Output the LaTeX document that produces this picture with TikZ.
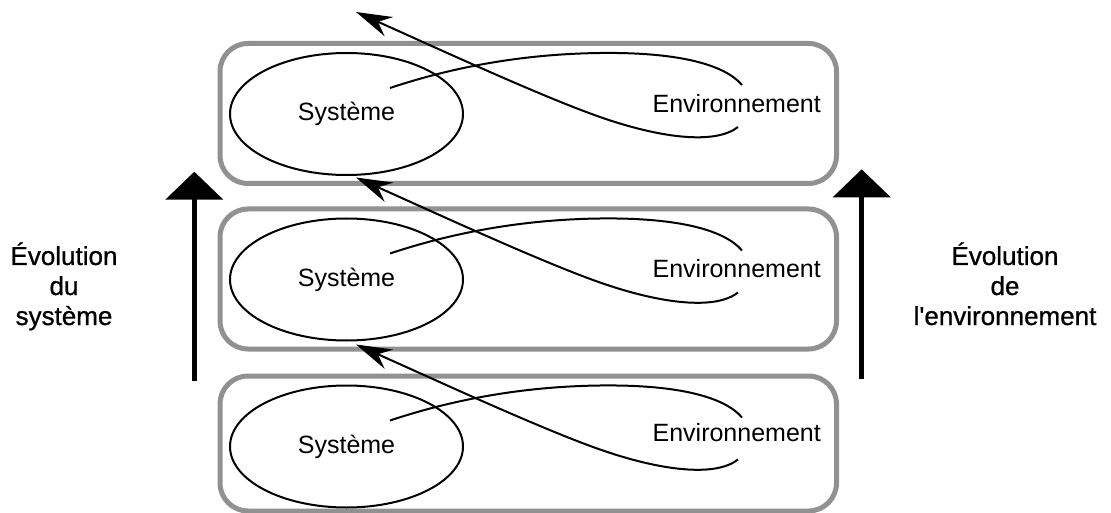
\documentclass[tikz,border=0pt]{standalone}
\usepackage{fontspec}
\newfontfamily\diagfont{Liberation Sans}
\newfontfamily\captionfont{Liberation Sans}[FakeBold=0.8]
\usetikzlibrary{arrows.meta,shapes.geometric}
\definecolor{framegray}{RGB}{145,145,145}
\begin{document}
\begin{tikzpicture}[x=1pt,y=-1pt,
  levelbox/.style={draw=framegray, line width=5pt, rounded corners=28pt, inner sep=0pt, minimum width=616.5pt},
  sysnode/.style={draw, ellipse, line width=2pt, minimum width=233pt, minimum height=122pt,
    inner sep=0pt, font=\diagfont\fontsize{25}{30}\selectfont},
  envnode/.style={anchor=base, inner sep=0pt, font=\diagfont\fontsize{25}{30}\selectfont},
  envloop/.style={line width=2pt},
  feedback/.style={line width=2pt, -{Stealth[length=36pt,width=21pt,inset=12pt]}},
  evolution/.style={line width=5pt, -{Triangle[length=28pt,width=57pt]}},
  sidelabel/.style={anchor=base, inner sep=0pt, font=\captionfont\fontsize{26}{30}\selectfont}]
\useasboundingbox (0,0) rectangle (1111,513);

% one level per time step: frame, system, environment and the feedback loop
\foreach \i/\d/\bh/\e in {1/0/140/112.7, 2/165.5/140/277.3, 3/332.5/135/441.7}{
  \node[levelbox, minimum height=\bh pt] (box\i) at (528.25,43.5+\d+\bh/2) {};
  \node[sysnode] (sys\i) at (346.5,114+\d) {Système};
  \node[envnode] (env\i) at (736.7,\e) {Environnement};
  \coordinate (out\i) at (390,88+\d);
  \coordinate (envin\i) at (742,85+\d);
  \coordinate (envout\i) at (738,127+\d);
  \coordinate (tip\i) at (356,12+\d);
  \draw[envloop] (out\i) .. controls (450,68+\d) and (520,54+\d) .. (600,53+\d)
    .. controls (680,52+\d) and (725,65+\d) .. (envin\i);
  \draw[feedback] (envout\i) .. controls (715,145+\d) and (660,138+\d) .. (600,117+\d)
    .. controls (540,96+\d) and (430,45+\d) .. (tip\i);
}

% evolution arrows
\coordinate (sysevoA) at (194.3,380.7);
\coordinate (sysevoB) at (194.3,171.7);
\coordinate (envevoA) at (861.7,379.3);
\coordinate (envevoB) at (861.7,169.3);
\draw[evolution] (sysevoA) -- (sysevoB);
\draw[evolution] (envevoA) -- (envevoB);

% side captions
\node[sidelabel] (sysl1) at (64,265) {Évolution};
\node[sidelabel] (sysl2) at (64,295) {du};
\node[sidelabel] (sysl3) at (64,325) {système};
\node[sidelabel] (envl1) at (1005,265) {Évolution};
\node[sidelabel] (envl2) at (1005,295) {de};
\node[sidelabel] (envl3) at (1005,325) {l'environnement};
\end{tikzpicture}
\end{document}
